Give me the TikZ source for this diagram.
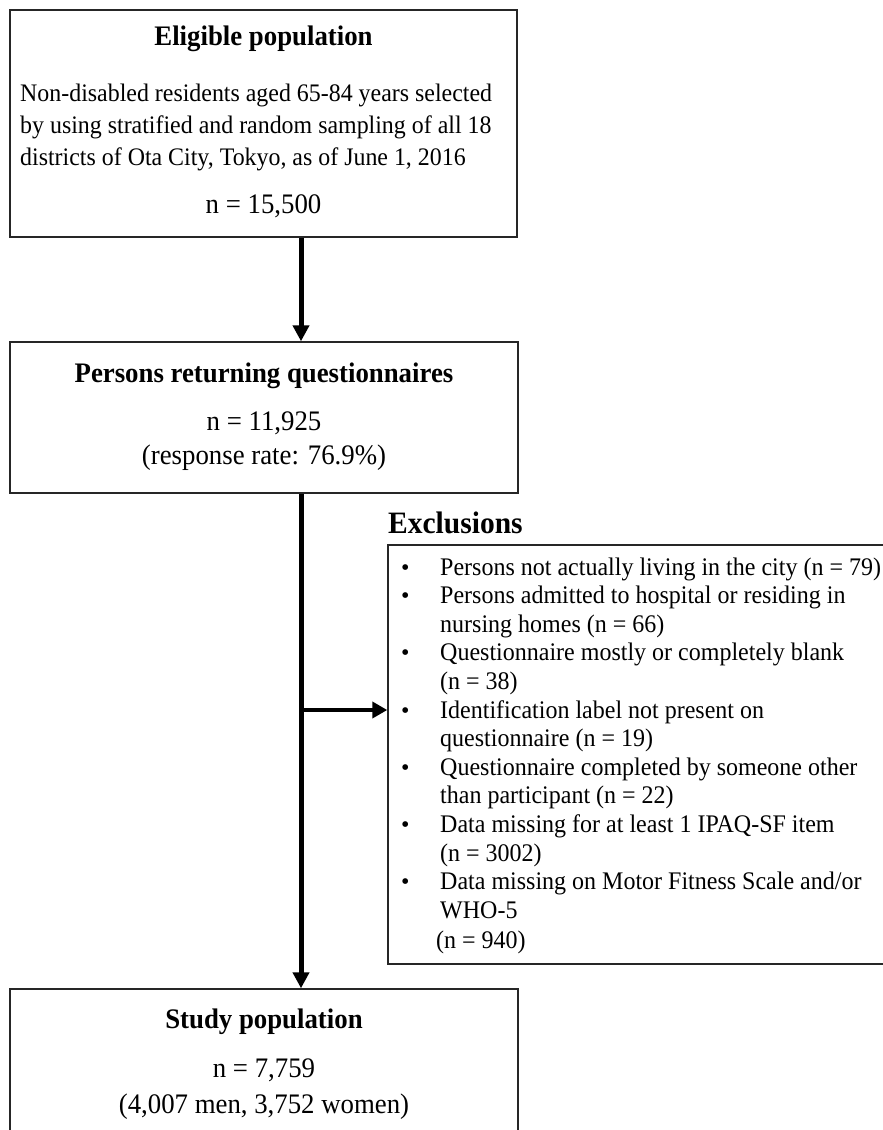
\documentclass[tikz,border=0pt]{standalone}
\usepackage{graphicx}
\usepackage{fontspec}
\setmainfont{Liberation Serif}
\usetikzlibrary{arrows.meta}
\newcommand\vst[1]{\scalebox{1}[1.055]{#1}}
\tikzset{
  box/.style={draw=black!85, line width=1.4pt, inner sep=0pt, fill=none},
  ttl/.style={anchor=base, inner sep=0pt, font=\fontsize{26.8}{32}\selectfont\bfseries},
  body/.style={anchor=base, inner sep=0pt, font=\fontsize{26.8}{32}\selectfont},
  bodyl/.style={anchor=base west, inner sep=0pt, font=\fontsize{23.9}{32}\selectfont},
  exl/.style={anchor=base west, inner sep=0pt, font=\fontsize{24}{28.6}\selectfont},
  flow/.style={line width=5pt, -{Triangle[width=16pt,length=16pt]}},
}
\begin{document}
\begin{tikzpicture}[x=1pt,y=-1pt]
\useasboundingbox (0,0) rectangle (883,1130);
% boxes
\node[box, minimum width=507pt, minimum height=227pt] (b1) at (263.5,123.5) {};
\node[box, minimum width=508pt, minimum height=151pt] (b2) at (264,417.5) {};
\node[box, minimum width=508pt, minimum height=160pt] (b3) at (264,1069) {};
\node[box, minimum width=510pt, minimum height=419pt] (ex) at (643,754.5) {};
% box 1 text
\node[ttl] (t1) at (263.5,45) {\vst{Eligible population}};
\node[bodyl] (l1a) at (20,101) {\vst{Non-disabled residents aged 65-84 years selected}};
\node[bodyl] (l1b) at (20,133) {\vst{by using stratified and random sampling of all 18}};
\node[bodyl] (l1c) at (20,165) {\vst{districts of Ota City, Tokyo, as of June 1, 2016}};
\node[body] (n1) at (263.5,213) {\vst{n = 15,500}};
% box 2 text
\node[ttl] (t2) at (264,382) {\vst{Persons returning questionnaires}};
\node[body] (n2) at (264,430) {\vst{n = 11,925}};
\node[body] (r2) at (264,464) {\vst{(response rate: 76.9\%)}};
% box 3 text
\node[ttl] (t3) at (264,1028) {\vst{Study population}};
\node[body] (n3) at (264,1077) {\vst{n = 7,759}};
\node[body] (r3) at (264,1113) {\vst{(4,007 men, 3,752 women)}};
% exclusions
\node[ttl, anchor=base west, font=\fontsize{29.5}{34}\selectfont\bfseries] (xt) at (388,533) {\vst{Exclusions}};
\foreach \i/\b/\t in {
  0/1/{Persons not actually living in the city (n = 79)},
  1/1/{Persons admitted to hospital or residing in},
  2/0/{nursing homes (n = 66)},
  3/1/{Questionnaire mostly or completely blank},
  4/0/{(n = 38)},
  5/1/{Identification label not present on},
  6/0/{questionnaire (n = 19)},
  7/1/{Questionnaire completed by someone other},
  8/0/{than participant (n = 22)},
  9/1/{Data missing for at least 1 IPAQ-SF item},
  10/0/{(n = 3002)},
  11/1/{Data missing on Motor Fitness Scale and/or},
  12/0/{WHO-5}}{
  \node[exl] (e\i) at (440,575+28.6*\i) {\vst{\t}};
  \ifnum\b=1 \node[exl] (bu\i) at (401,575+28.6*\i) {\textbullet}; \fi
}
\node[exl] (e13) at (436,948.8) {\vst{(n = 940)}};
% connectors
\coordinate (ax) at (301,0);
\coordinate (hx) at (0,710);
\draw[flow] (b1.south -| ax) -- (b2.north -| ax);
\draw[flow] (b2.south -| ax) -- (b3.north -| ax);
\draw[line width=4.5pt, -{Triangle[width=16pt,length=15pt]}] (hx -| ax) -- (hx -| ex.west);
\end{tikzpicture}
\end{document}
